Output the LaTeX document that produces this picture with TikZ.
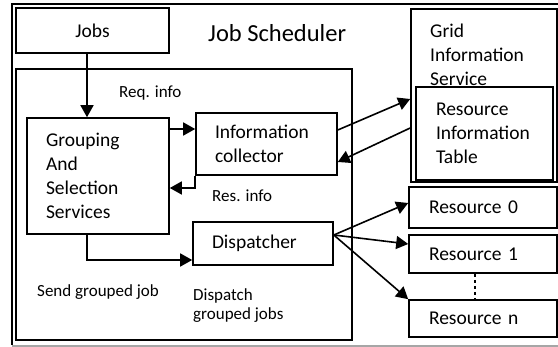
\documentclass[tikz,border=0pt]{standalone}
\usepackage{fontspec}
\setmainfont{Carlito}
\usetikzlibrary{arrows.meta,calc}

\newcommand\boxfont{\fontsize{19.5}{24}\selectfont}
\newcommand\lblfont{\fontsize{17}{19.5}\selectfont}
\newcommand\titlefont{\fontsize{24.5}{29}\selectfont}

\begin{document}
\begin{tikzpicture}[x=1pt,y=-1pt,
  box/.style={draw, line width=1.6pt, inner sep=0pt, font=\boxfont},
  txtbox/.style={box, align=left, inner xsep=19pt},
  lbl/.style={font=\lblfont, inner sep=0pt, anchor=base west},
  arr/.style={line width=1.6pt, -{Triangle[length=12pt,width=13pt]}}
]
\useasboundingbox (0,0) rectangle (558,347);

% --- OUTER FRAME ---
\draw[line width=1.2pt] (570,4) -- (12,4) -- (12,345);
\draw[line width=1.2pt, black!35] (12,346) -- (570,346);

% --- JOB SCHEDULER ---
\node[box, minimum width=153pt, minimum height=45pt] (jobs) at (92.5,30.5) {Jobs};
\node[font=\titlefont, inner sep=0pt, anchor=base west] (title) at (208,42) {Job Scheduler};
\node[box, minimum width=336pt, minimum height=271pt] (sched) at (184,204.5) {};

\node[txtbox, text width=104pt, minimum height=116pt] (grp) at (98,176) {Grouping\\And\\Selection\\Services};
\node[txtbox, text width=103pt, minimum height=62pt] (info) at (266.5,144) {Information\\collector};
\node[txtbox, text width=102pt, minimum height=43pt] (disp) at (263,243.5) {Dispatcher};

% --- GRID INFORMATION SERVICE ---
\node[box, minimum width=146pt, minimum height=173pt] (gis) at (484,95.5) {};
\node[font=\boxfont, align=left, inner sep=0pt, anchor=north west] (gistext) at (430,24) {Grid\\Information\\Service};
\node[txtbox, inner xsep=20pt, text width=97pt, minimum height=93pt] (rit) at (484.5,133.5) {Resource\\Information\\Table};

% --- RESOURCES ---
\node[txtbox, inner xsep=20pt, text width=108pt, minimum height=41pt] (res0) at (483,207.5) {Resource 0};
\node[txtbox, inner xsep=20pt, text width=108pt, minimum height=38pt] (res1) at (483,254) {Resource 1};
\node[txtbox, inner xsep=20pt, text width=108pt, minimum height=37pt] (resn) at (483,318.5) {Resource n};
\draw[line width=1.4pt, dashed] ($(res1.south)+(-8,0)$) -- ($(resn.north)+(-8,0)$);

% --- LABELS ---
\node[lbl] (req) at (119,98) {Req. info};
\node[lbl] (resinfo) at (212,202) {Res. info};
\node[lbl] (send) at (37,297) {Send grouped job};
\node[lbl, align=left, anchor=north west] (dispjobs) at (193,288) {Dispatch\\grouped jobs};

% --- ARROWS ---
\draw[arr] ($(jobs.south)+(-5.5,0)$) -- ($(grp.north)+(-11,0)$);
\draw[arr] ($(info.west -| grp.east)+(0,-15)$) -- ($(info.west)+(0,-15)$);
\draw[arr] (info.south west) |- ($(grp.east)+(0,12)$);
\draw[arr] ($(grp.south)+(-11,0)$) |- ($(disp.west)+(0,16.5)$);
\draw[arr] ($(info.east)+(0,-14)$) -- ($(gis.west)+(0,3.5)$);
\draw[arr] ($(gis.west)+(0,32.5)$) -- ($(info.east)+(0,18)$);
\draw[arr] ($(disp.east)+(0,-8.5)$) -- ($(res0.west)+(0,-4.5)$);
\draw[arr] ($(disp.east)+(0,-8.5)$) -- ($(res1.west)+(0,-10)$);
\draw[arr] ($(disp.east)+(0,-8.5)$) -- (resn.north west);

\end{tikzpicture}
\end{document}
